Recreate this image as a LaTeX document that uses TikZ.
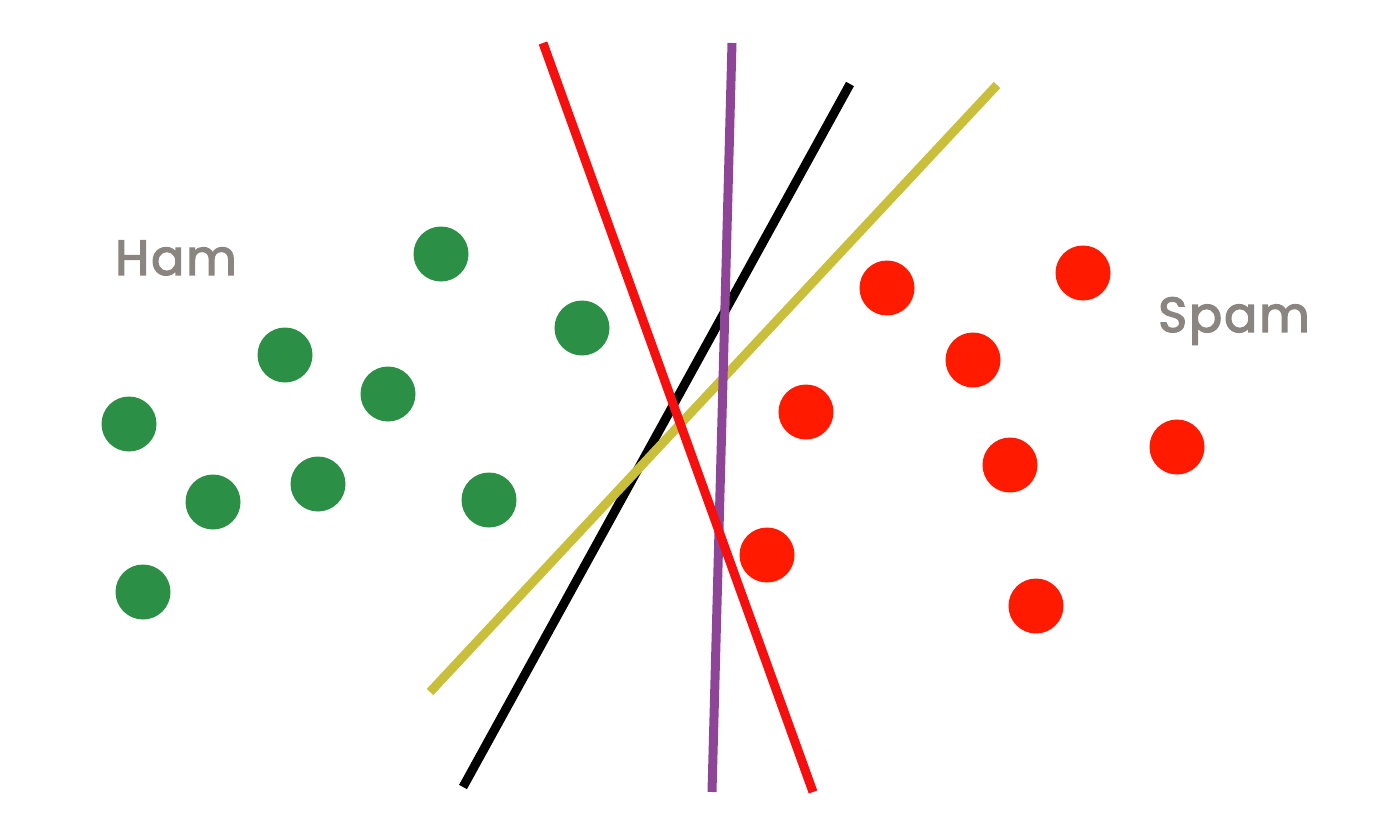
\documentclass[tikz,border=0pt]{standalone}
\usepackage{fontspec}
\setmainfont{Poppins}
\newfontfamily\lblfont{Poppins}[FakeBold=3,LetterSpace=4]
\definecolor{hamgreen}{HTML}{2B8F46}
\definecolor{spamred}{HTML}{FF1A00}
\definecolor{labelgray}{HTML}{8A8580}
\definecolor{lineyellow}{HTML}{C9BF3A}
\definecolor{linepurple}{HTML}{8E4597}
\definecolor{linered}{HTML}{F50F0F}
\begin{document}
\begin{tikzpicture}[x=1pt,y=-1pt,
  ham/.style={fill=hamgreen},
  spam/.style={fill=spamred},
  sep/.style={line width=9pt},
  lbl/.style={text=labelgray,font=\lblfont\fontsize{49}{56}\selectfont}]
\useasboundingbox (0,0) rectangle (1382,816);
% separating lines
\coordinate (k1) at (850,84);  \coordinate (k2) at (463,787);
\coordinate (y1) at (997,85);  \coordinate (y2) at (430,692);
\coordinate (r1) at (543,43);  \coordinate (r2) at (813,792);
\coordinate (p1) at (732,43);  \coordinate (p2) at (712,792);
\draw[sep,black] (k1) -- (k2);
\draw[sep,lineyellow] (y1) -- (y2);
\draw[sep,linepurple] (p1) -- (p2);
\draw[sep,linered] (r1) -- (r2);
% ham points
\foreach \x/\y in {441/254,582/328,285/355,388/394,129/424,318/484,213/502,489/500,143/592}
  \fill[ham] (\x,\y) circle (27.5);
% spam points
\foreach \x/\y in {887/288,1083/273,973/360,806/412,1010/465,1177/447,767/555,1036/606}
  \fill[spam] (\x,\y) circle (27.5);
\node[lbl] (ham) at (176,258) {Ham};
\node[lbl] (spam) at (1234,321) {Spam};
\end{tikzpicture}
\end{document}
